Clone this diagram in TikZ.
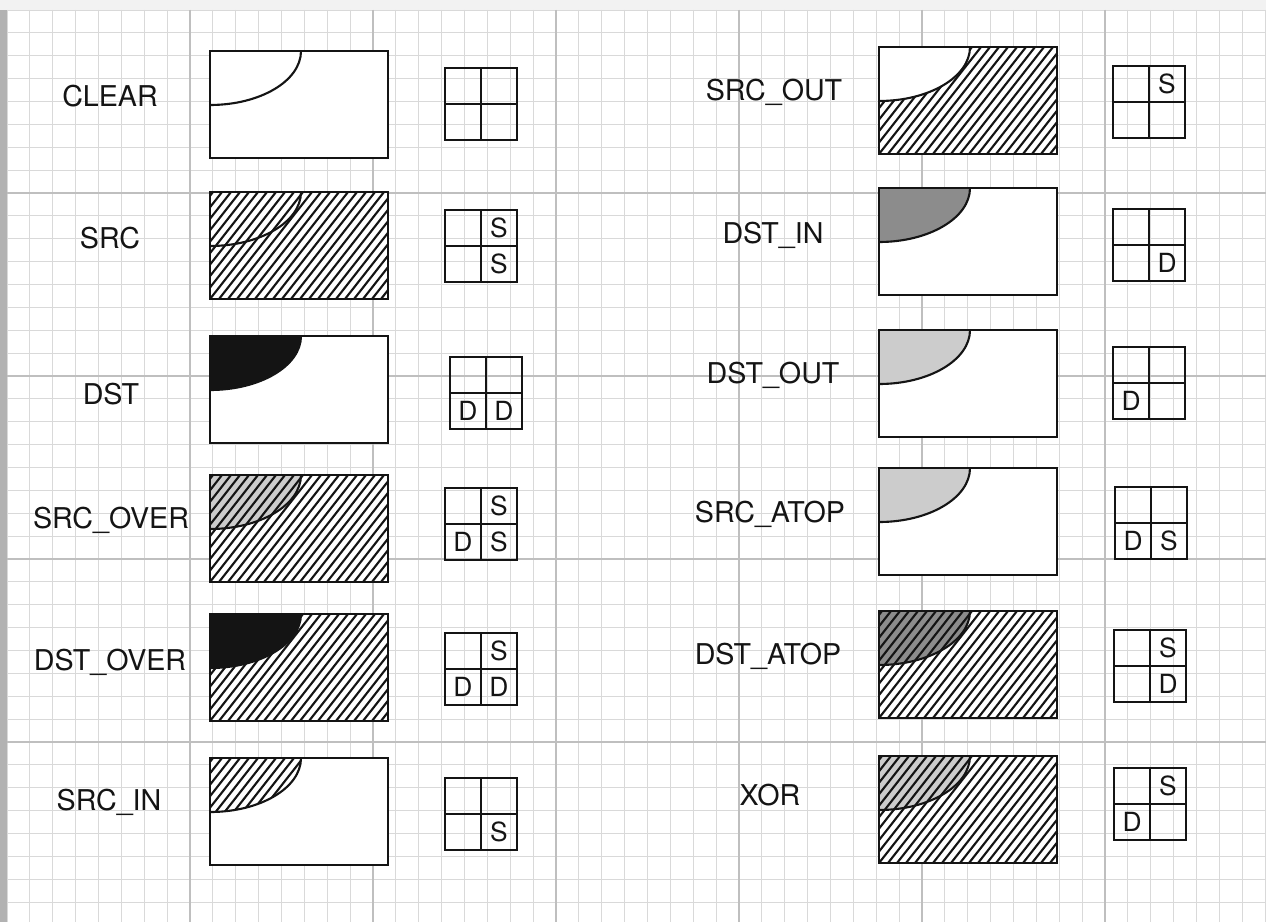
\documentclass[tikz,border=0pt]{standalone}
\usepackage{fontspec}
\setmainfont{TeX Gyre Heros}
\definecolor{darkfill}{gray}{0.55}
\definecolor{lightfill}{gray}{0.80}
\definecolor{inkblack}{gray}{0.08}

\begin{document}
\begin{tikzpicture}[x=0.02cm,y=-0.02cm,
  gridminor/.style={gray!30,line width=0.55pt},
  gridmajor/.style={gray!50,line width=0.8pt},
  panelrim/.style={draw=inkblack,line width=1.6pt},
  ovalrim/.style={draw=inkblack,line width=1.2pt},
  hatchline/.style={inkblack,line width=1.2pt},
  opname/.style={font=\fontsize{16.3}{19}\selectfont,text=inkblack,anchor=base},
  cellletter/.style={font=\fontsize{15}{18}\selectfont,text=inkblack,inner sep=0pt,anchor=base}]

  % paper with its shadow
  \useasboundingbox (0,0) rectangle (1266,922);
  \fill[gray!10] (0,0) rectangle (1266,922);
  \fill[gray!60] (0,10) rectangle (7,922);
  \fill[white] (7,10) rectangle (1266,922);

  % graph paper
  \foreach \k in {0,...,55}
    \draw[gridminor] (7+\k*22.875,10) -- (7+\k*22.875,922);
  \foreach \k in {0,...,39}
    \draw[gridminor] (7,10+\k*22.875) -- (1266,10+\k*22.875);
  \foreach \k in {1,...,6}
    \draw[gridmajor] (7+\k*183,10) -- (7+\k*183,922);
  \foreach \k in {1,...,4}
    \draw[gridmajor] (7,10+\k*183) -- (1266,10+\k*183);

  % one rule per row: name, label, area, hatching outside, fill and hatching of the corner, table
  \foreach \name/\lx/\ly/\rx/\ry/\outh/\incol/\inh/\bx/\by/\tl/\tr/\bl/\br [count=\i] in {
      CLEAR/110/97/210/51/0/white/0/445/68/{}/{}/{}/{},
      SRC/110/238/210/192/1/white/1/445/210/{}/S/{}/S,
      DST/111/394/210/336/0/inkblack/0/450/357/{}/{}/D/D,
      SRC\_OVER/111/518/210/475/1/lightfill/1/445/488/{}/S/D/S,
      DST\_OVER/110/660/210/614/1/inkblack/0/445/633/{}/S/D/D,
      SRC\_IN/109/800/210/758/0/white/1/445/778/{}/{}/{}/S,
      SRC\_OUT/774/91/879/47/1/white/0/1113/66/{}/S/{}/{},
      DST\_IN/773/233/879/188/0/darkfill/0/1113/209/{}/{}/{}/D,
      DST\_OUT/773/373/879/330/0/lightfill/0/1113/347/{}/{}/D/{},
      SRC\_ATOP/770/512/879/468/0/lightfill/0/1115/487/{}/{}/D/S,
      DST\_ATOP/768/654/879/611/1/darkfill/1/1114/630/{}/S/{}/D,
      XOR/770/795/879/756/1/lightfill/1/1114/768/{}/S/D/{}}
  {
    \node[opname] (op\i) at (\lx,\ly+10) {\name};

    \fill[white] (\rx,\ry) rectangle ++(178,107);
    \ifnum\outh=1
      \begin{scope}
        \clip (\rx,\ry) rectangle ++(178,107);
        \foreach \k in {-10,...,20}
          \draw[hatchline] (\rx+\k*9,\ry+107) -- ++(84,-107);
      \end{scope}
    \fi
    \fill[\incol] (\rx,\ry) -- (\rx+91,\ry)
      .. controls (\rx+91,\ry+30) and (\rx+50,\ry+54) .. (\rx,\ry+54) -- cycle;
    \ifnum\inh=1
      \begin{scope}
        \clip (\rx,\ry) -- (\rx+91,\ry)
          .. controls (\rx+91,\ry+30) and (\rx+50,\ry+54) .. (\rx,\ry+54) -- cycle;
        \foreach \k in {-10,...,20}
          \draw[hatchline] (\rx+\k*9,\ry+107) -- ++(84,-107);
      \end{scope}
    \fi
    \draw[ovalrim] (\rx+91,\ry)
      .. controls (\rx+91,\ry+30) and (\rx+50,\ry+54) .. (\rx,\ry+54);
    \draw[panelrim] (\rx,\ry) rectangle ++(178,107);

    % the 2x2 table
    \draw[panelrim] (\bx,\by) rectangle ++(72,72)
      (\bx+36,\by) -- ++(0,72) (\bx,\by+36) -- ++(72,0);
    \node[cellletter] (tl\i) at (\bx+18,\by+27.5) {\tl};
    \node[cellletter] (tr\i) at (\bx+54,\by+27.5) {\tr};
    \node[cellletter] (bl\i) at (\bx+18,\by+63.5) {\bl};
    \node[cellletter] (br\i) at (\bx+54,\by+63.5) {\br};
  }
\end{tikzpicture}
\end{document}
